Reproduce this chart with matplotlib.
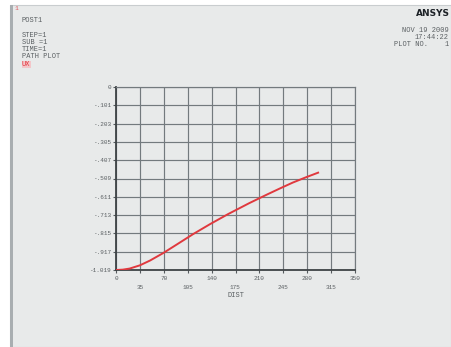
import matplotlib.pyplot as plt
from matplotlib.patches import Rectangle

# path plot of UX along DIST
dist = [0, 10, 20, 35, 50, 69, 89, 113, 138, 164, 195, 221, 240, 259, 278, 296]
ux = [-1.019, -1.017, -1.011, -0.993, -0.966, -0.925, -0.877, -0.819, -0.763,
      -0.708, -0.647, -0.599, -0.565, -0.532, -0.503, -0.477]

x_ticks = [0, 35, 70, 105, 140, 175, 210, 245, 280, 315, 350]
y_ticks = [0, -0.1019, -0.2038, -0.3057, -0.4076, -0.5095, -0.6114, -0.7133,
           -0.8152, -0.9171, -1.019]
y_labels = ["0", "-.101", "-.203", "-.305", "-.407", "-.509", "-.611", "-.713",
            "-.815", "-.917", "-1.019"]

header = ["POST1", "", "STEP=1", "SUB =1", "TIME=1", "PATH PLOT"]
stamp = ["NOV 19 2009", "17:44:22", "PLOT NO.    1"]

W, H = 451, 347
bg = "#e8eaea"
txt = "#5a5f62"
grid_c = "#737a7e"
mono = ["Liberation Mono", "DejaVu Sans Mono"]

fig = plt.figure(figsize=(W / 100, H / 100), dpi=100, facecolor="white")

# window panel and its left edge (kept behind the axes)
fig.patches.append(Rectangle((10 / W, 0.0), 1 - 10 / W, 1 - 5 / H,
                             transform=fig.transFigure, facecolor=bg,
                             edgecolor="#c9cdcf", linewidth=0.8, zorder=-10))
fig.patches.append(Rectangle((10 / W, 0.0), 2.5 / W, 1 - 5 / H,
                             transform=fig.transFigure, facecolor="#a9aeb1",
                             edgecolor="none", zorder=-9))

ax = fig.add_axes([116 / W, 1 - 270 / H, 239 / W, 183 / H])
ax.set_facecolor(bg)
ax.plot(dist, ux, color="#e0393e", linewidth=1.4, zorder=3)
ax.set_xlim(0, 350)
ax.set_ylim(-1.019, 0)

ax.set_xticks(x_ticks)
ax.set_xticklabels(["" for _ in x_ticks])
ax.set_yticks(y_ticks)
ax.set_yticklabels(y_labels, family=mono, fontsize=4.3, color=txt)
ax.tick_params(axis="both", direction="out", length=2.5, width=0.8,
               color="#555a5d", pad=1)
ax.grid(True, color=grid_c, linewidth=0.85)
for side in ("top", "right"):
    ax.spines[side].set_color(grid_c)
    ax.spines[side].set_linewidth(0.85)
for side in ("left", "bottom"):
    ax.spines[side].set_color("#3e4346")
    ax.spines[side].set_linewidth(1.3)

# staggered x labels, two rows
for i, v in enumerate(x_ticks):
    yy = -0.045 if i % 2 == 0 else -0.095
    ax.text(v, -1.019 + yy * 1.019, str(v), ha="center", va="center",
            family=mono, fontsize=4.3, color=txt, clip_on=False)
ax.text(175, -1.019 - 0.143, "DIST", ha="center", va="center",
        family=mono, fontsize=5, color=txt, clip_on=False)

# header block
fig.text(14 / W, 1 - 9 / H, "1", family=mono, fontsize=4.5, color="#d9545a",
         va="center")
for i, s in enumerate(header):
    if s:
        fig.text(22 / W, 1 - (21 + i * 7.2) / H, s, family=mono, fontsize=5,
                 color=txt, va="center")
fig.text(22 / W, 1 - 64.5 / H, "UX", family=mono, fontsize=5, color="#e2353c",
         va="center", bbox=dict(facecolor="#f3c6c9", edgecolor="none", pad=0.3))

# title stamp
fig.text(450 / W, 1 - 14 / H, "ANSYS", family=["DejaVu Sans"], fontsize=6.5,
         weight="bold", color="#1c2126", ha="right", va="center")
for i, s in enumerate(stamp):
    fig.text(449 / W, 1 - (30 + i * 7.5) / H, s, family=mono, fontsize=5,
             color=txt, ha="right", va="center")

fig.savefig("out.png", dpi=100, facecolor="white")
